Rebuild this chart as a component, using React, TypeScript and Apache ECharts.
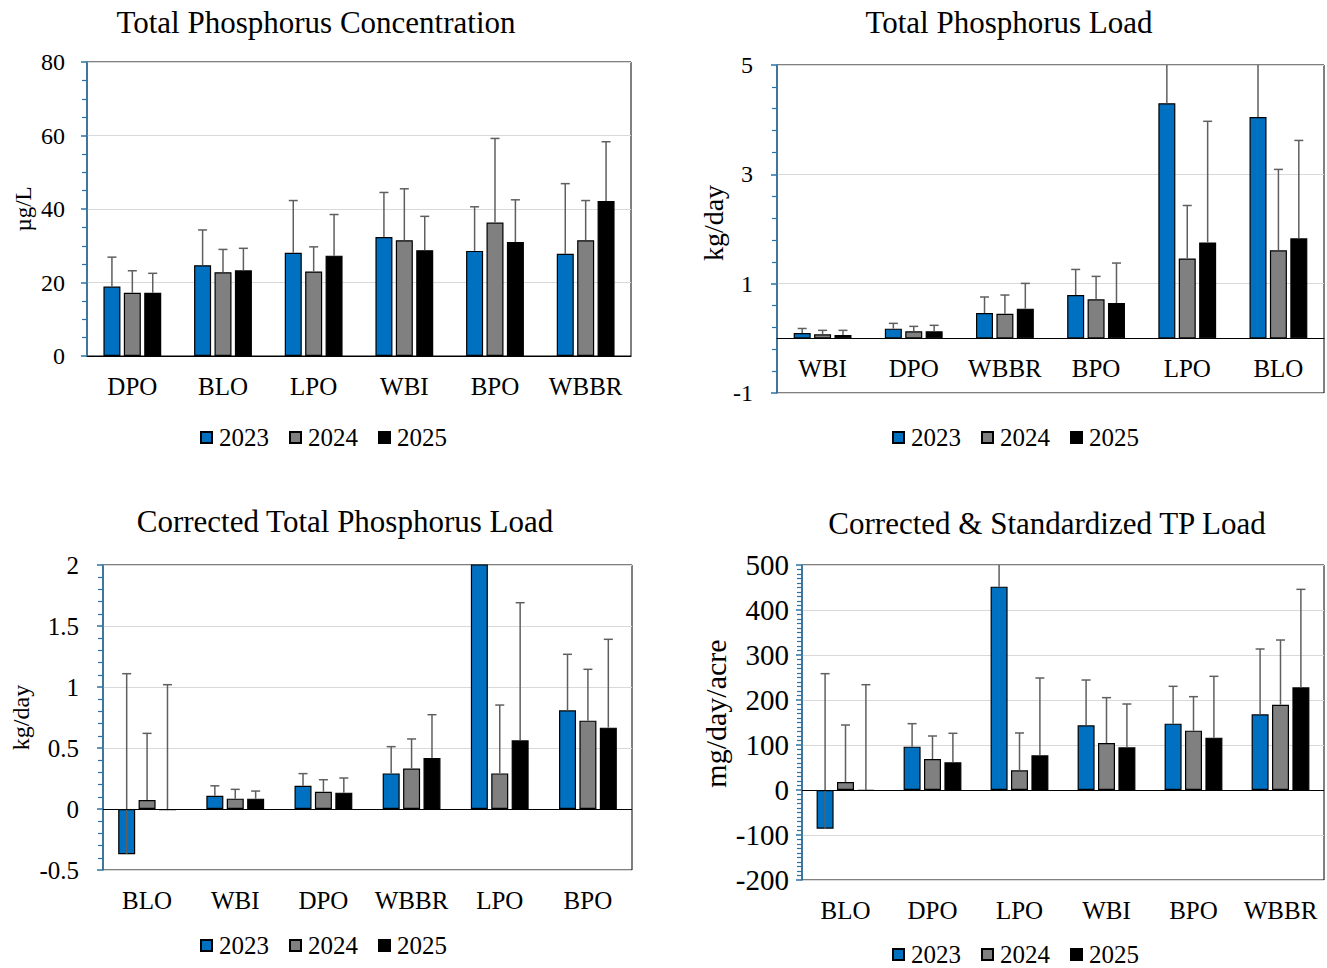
import React, { useEffect, useRef } from "react";
import * as echarts from "echarts";

const YEARS = ["2023", "2024", "2025"];
const COLORS = ["#0070C0", "#808080", "#000000"];

// Chart 1: Total Phosphorus Concentration (µg/L)
const C1_CATS = ["DPO", "BLO", "LPO", "WBI", "BPO", "WBBR"];
const C1_2023 = [18.9, 24.7, 28.1, 32.4, 28.6, 27.8];
const C1_2024 = [17.2, 22.8, 23.0, 31.5, 36.3, 31.5];
const C1_2025 = [17.2, 23.3, 27.3, 28.8, 31.0, 42.2];
const C1_ERR2023 = [8.0, 9.6, 14.2, 12.1, 12.0, 19.1];
const C1_ERR2024 = [6.0, 6.2, 6.7, 14.0, 22.9, 10.8];
const C1_ERR2025 = [5.3, 6.0, 11.2, 9.2, 11.5, 16.1];

// Chart 2: Total Phosphorus Load (kg/day)
const C2_CATS = ["WBI", "DPO", "WBBR", "BPO", "LPO", "BLO"];
const C2_2023 = [0.097, 0.177, 0.463, 0.792, 4.3, 4.05];
const C2_2024 = [0.073, 0.128, 0.451, 0.713, 1.46, 1.61];
const C2_2025 = [0.06, 0.128, 0.543, 0.646, 1.755, 1.83];
const C2_ERR2023 = [0.083, 0.097, 0.293, 0.468, 2.0, 2.2];
const C2_ERR2024 = [0.073, 0.091, 0.341, 0.42, 0.97, 1.48];
const C2_ERR2025 = [0.086, 0.11, 0.462, 0.731, 2.215, 1.79];

// Chart 3: Corrected Total Phosphorus Load (kg/day)
const C3_CATS = ["BLO", "WBI", "DPO", "WBBR", "LPO", "BPO"];
const C3_2023 = [-0.371, 0.109, 0.19, 0.292, 2.4, 0.809];
const C3_2024 = [0.074, 0.085, 0.142, 0.331, 0.292, 0.724];
const C3_2025 = [-0.01, 0.085, 0.134, 0.418, 0.563, 0.667];
const C3_ERR2023 = [1.48, 0.081, 0.1, 0.219, 1.0, 0.459];
const C3_ERR2024 = [0.546, 0.076, 0.098, 0.243, 0.56, 0.421];
const C3_ERR2025 = [1.029, 0.062, 0.12, 0.355, 1.128, 0.724];

// Chart 4: Corrected & Standardized TP Load (mg/day/acre)
const C4_CATS = ["BLO", "DPO", "LPO", "WBI", "BPO", "WBBR"];
const C4_2023 = [-85.9, 96.3, 451.9, 143.7, 147.4, 168.1];
const C4_2024 = [17.8, 68.9, 43.7, 104.4, 131.9, 189.6];
const C4_2025 = [-2, 61.5, 77, 94.8, 116.3, 228.1];
const C4_ERR2023 = [344.4, 51.1, 150, 100.7, 83, 145.2];
const C4_ERR2024 = [126.6, 51.1, 83, 100.8, 75.5, 143.7];
const C4_ERR2025 = [236, 64.5, 171.9, 96.3, 136.3, 217.8];

const FONT = "Liberation Serif";
const AXIS_BLUE = "#2B73A6";
const BAR_W = 17;
const BAR_GAP = 0.2;

type ChartCfg = {
  title: string;
  titleX: number;
  titleY: number;
  grid: { left: number; top: number; width: number; height: number };
  cats: string[];
  values: number[][];
  errs: number[][];
  min: number;
  max: number;
  interval: number;
  minorSplit: number;
  yName: string;
  yNameSize: number;
  yNameGap: number;
  yNameShift: number;
  yLabelSize: number;
  yLabelMargin: number;
  xMode: "bottom" | "zero" | "lowLabels";
  xOffset: number;
  legendLeft: number;
  legendTop: number;
};

const CHARTS: ChartCfg[] = [
  {
    title: "Total Phosphorus Concentration",
    titleX: 316,
    titleY: 22,
    grid: { left: 87, top: 62, width: 544, height: 294 },
    cats: C1_CATS,
    values: [C1_2023, C1_2024, C1_2025],
    errs: [C1_ERR2023, C1_ERR2024, C1_ERR2025],
    min: 0,
    max: 80,
    interval: 20,
    minorSplit: 4,
    yName: "µg/L",
    yNameSize: 23,
    yNameGap: 52,
    yNameShift: 0,
    yLabelSize: 24,
    yLabelMargin: 22,
    xMode: "bottom",
    xOffset: 0,
    legendLeft: 195,
    legendTop: 420,
  },
  {
    title: "Total Phosphorus Load",
    titleX: 1009,
    titleY: 22,
    grid: { left: 777, top: 65, width: 547, height: 328 },
    cats: C2_CATS,
    values: [C2_2023, C2_2024, C2_2025],
    errs: [C2_ERR2023, C2_ERR2024, C2_ERR2025],
    min: -1,
    max: 5,
    interval: 2,
    minorSplit: 5,
    yName: "kg/day",
    yNameSize: 28,
    yNameGap: 50,
    yNameShift: 12,
    yLabelSize: 24,
    yLabelMargin: 24,
    xMode: "zero",
    xOffset: -55,
    legendLeft: 887,
    legendTop: 420,
  },
  {
    title: "Corrected Total Phosphorus Load",
    titleX: 345,
    titleY: 521,
    grid: { left: 103, top: 565, width: 529, height: 305 },
    cats: C3_CATS,
    values: [C3_2023, C3_2024, C3_2025],
    errs: [C3_ERR2023, C3_ERR2024, C3_ERR2025],
    min: -0.5,
    max: 2,
    interval: 0.5,
    minorSplit: 5,
    yName: "kg/day",
    yNameSize: 24,
    yNameGap: 70,
    yNameShift: 0,
    yLabelSize: 25,
    yLabelMargin: 24,
    xMode: "lowLabels",
    xOffset: 0,
    legendLeft: 195,
    legendTop: 928,
  },
  {
    title: "Corrected & Standardized TP Load",
    titleX: 1047,
    titleY: 523,
    grid: { left: 802, top: 565, width: 522, height: 315 },
    cats: C4_CATS,
    values: [C4_2023, C4_2024, C4_2025],
    errs: [C4_ERR2023, C4_ERR2024, C4_ERR2025],
    min: -200,
    max: 500,
    interval: 100,
    minorSplit: 10,
    yName: "mg/day/acre",
    yNameSize: 30,
    yNameGap: 72,
    yNameShift: 18,
    yLabelSize: 29,
    yLabelMargin: 13,
    xMode: "lowLabels",
    xOffset: 0,
    legendLeft: 887,
    legendTop: 937,
  },
];

function buildOption() {
  const grid: any[] = [];
  const xAxis: any[] = [];
  const yAxis: any[] = [];
  const series: any[] = [];
  const legend: any[] = [];
  const graphic: any[] = [];

  CHARTS.forEach((c, gi) => {
    grid.push({
      ...c.grid,
      show: true,
      borderColor: "#000",
      borderWidth: 1,
      backgroundColor: "transparent",
      containLabel: false,
    });
    xAxis.push({
      type: "category",
      gridIndex: gi,
      data: c.cats,
      position: "bottom",
      offset: c.xOffset,
      axisLine: {
        show: c.xMode !== "lowLabels",
        onZero: false,
        lineStyle: { color: "#000", width: 1.2 },
      },
      axisTick: { show: false },
      axisLabel: {
        fontFamily: FONT,
        fontSize: 25,
        color: "#000",
        margin: 18,
        interval: 0,
      },
      splitLine: { show: false },
    });
    yAxis.push({
      type: "value",
      gridIndex: gi,
      min: c.min,
      max: c.max,
      interval: c.interval,
      name: c.yName,
      nameLocation: "middle",
      nameGap: c.yNameGap,
      nameRotate: 90,
      nameTextStyle: {
        fontFamily: FONT,
        fontSize: c.yNameSize,
        color: "#000",
        padding: [0, 0, 0, c.yNameShift],
      },
      axisLine: { show: true, lineStyle: { color: AXIS_BLUE, width: 1.5 } },
      axisTick: { show: true, inside: false, length: 6, lineStyle: { color: AXIS_BLUE, width: 1.5 } },
      minorTick: {
        show: true,
        splitNumber: c.minorSplit,
        length: 5,
        lineStyle: { color: AXIS_BLUE, width: 1.2 },
      },
      axisLabel: {
        fontFamily: FONT,
        fontSize: c.yLabelSize,
        color: "#000",
        margin: c.yLabelMargin,
      },
      splitLine: { show: true, lineStyle: { color: "#D9D9D9", width: 1.2 } },
    });

    YEARS.forEach((yr, k) => {
      const bar: any = {
        type: "bar",
        name: yr,
        xAxisIndex: gi,
        yAxisIndex: gi,
        data: c.values[k],
        barWidth: BAR_W,
        barGap: BAR_GAP * 100 + "%",
        itemStyle: { color: COLORS[k], borderColor: "#000", borderWidth: 1.2 },
        clip: true,
        z: 2,
      };
      if (c.xMode === "lowLabels" && k === 0) {
        bar.markLine = {
          silent: true,
          symbol: ["none", "none"],
          label: { show: false },
          lineStyle: { color: "#000", type: "solid", width: 1.2 },
          data: [{ yAxis: 0 }],
        };
      }
      series.push(bar);
    });

    YEARS.forEach((yr, k) => {
      const off = (k - 1) * BAR_W * (1 + BAR_GAP);
      series.push({
        type: "custom",
        name: "err" + yr + "_" + gi,
        xAxisIndex: gi,
        yAxisIndex: gi,
        clip: true,
        z: 3,
        encode: { x: 0, y: 1 },
        data: c.values[k].map((v, i) => [i, v, v + c.errs[k][i]]),
        renderItem: (params: any, api: any) => {
          const idx = api.value(0);
          const v = api.value(1);
          const up = api.value(2);
          const p0 = api.coord([idx, v]);
          const p1 = api.coord([idx, up]);
          const x = p0[0] + off;
          const st = { stroke: "#5F5F5F", lineWidth: 1.5 };
          return {
            type: "group",
            children: [
              { type: "line", shape: { x1: x, y1: p0[1], x2: x, y2: p1[1] }, style: st },
              { type: "line", shape: { x1: x - 4.5, y1: p1[1], x2: x + 4.5, y2: p1[1] }, style: st },
            ],
          };
        },
      });
    });

    legend.push({
      data: YEARS,
      left: c.legendLeft,
      top: c.legendTop,
      orient: "horizontal",
      icon: "rect",
      itemWidth: 11,
      itemHeight: 11,
      itemGap: 20,
      formatter: "{a|{name}}",
      textStyle: {
        fontFamily: FONT,
        fontSize: 25,
        color: "#000",
        rich: {
          a: { fontFamily: FONT, fontSize: 25, color: "#000", padding: [0, 0, 0, 2] },
        },
      },
      selectedMode: false,
    });

    graphic.push({
      type: "text",
      x: c.titleX,
      y: c.titleY,
      style: {
        text: c.title,
        fontFamily: FONT,
        fontSize: 31,
        fill: "#000",
        textAlign: "center",
        textVerticalAlign: "middle",
      },
    });
  });

  return {
    animation: false,
    textStyle: { fontFamily: FONT },
    grid,
    xAxis,
    yAxis,
    series,
    legend,
    graphic,
  };
}

export default function App() {
  const ref = useRef<HTMLDivElement>(null);
  useEffect(() => {
    if (!ref.current) return;
    const chart = echarts.init(ref.current, undefined, { renderer: "svg" });
    chart.setOption(buildOption() as any);
    return () => chart.dispose();
  }, []);
  return (
    <div
      ref={ref}
      style={{ position: "fixed", left: 0, top: 0, width: 1327, height: 968, background: "#fff" }}
    />
  );
}
